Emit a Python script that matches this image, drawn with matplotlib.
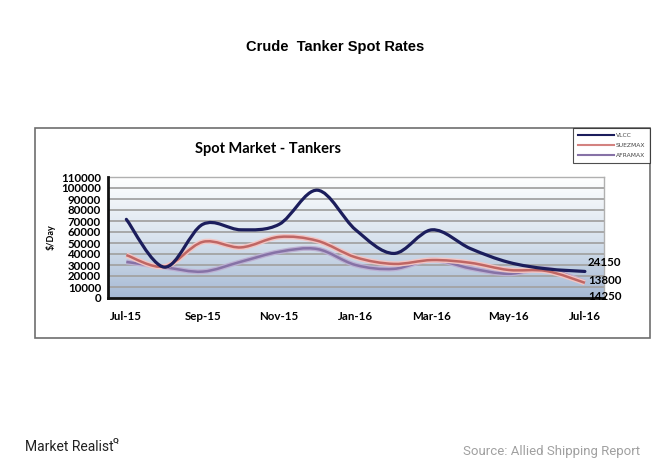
import numpy as np
import matplotlib
matplotlib.use("Agg")
import matplotlib.pyplot as plt
from matplotlib.path import Path
from matplotlib.patches import PathPatch, Rectangle
from matplotlib.colors import LinearSegmentedColormap
from matplotlib.lines import Line2D

# monthly spot rates, $/day (Jul-15 .. Jul-16)
months = ["Jul-15", "Aug-15", "Sep-15", "Oct-15", "Nov-15", "Dec-15", "Jan-16",
          "Feb-16", "Mar-16", "Apr-16", "May-16", "Jun-16", "Jul-16"]
vlcc = [71500, 28000, 67000, 62000, 67000, 98000, 62000, 40500, 62000, 45000, 32500, 26500, 24150]
suezmax = [39000, 28500, 51000, 46000, 55500, 52000, 37000, 31000, 34500, 32000, 25500, 24500, 13800]
aframax = [32800, 28000, 24000, 33000, 42000, 44500, 30000, 26500, 34500, 27000, 22000, 26500, 14250]

tick_months = ["Jul-15", "Sep-15", "Nov-15", "Jan-16", "Mar-16", "May-16", "Jul-16"]
end_labels = ["24150", "13800", "14250"]

W, H = 668, 471


def smooth_path(xs, ys):
    # excel-like smoothed line: catmull-rom segments as cubic beziers
    pts = np.column_stack([xs, ys]).astype(float)
    n = len(pts)
    verts = [pts[0]]
    codes = [Path.MOVETO]
    for i in range(n - 1):
        p0 = pts[i - 1] if i > 0 else pts[i]
        p1 = pts[i]
        p2 = pts[i + 1]
        p3 = pts[i + 2] if i + 2 < n else pts[i + 1]
        c1 = p1 + (p2 - p0) / 6.0
        c2 = p2 - (p3 - p1) / 6.0
        verts += [c1, c2, p2]
        codes += [Path.CURVE4] * 3
    return Path(verts, codes)


def fx(px):
    return px / W


def fy(py):
    return 1 - py / H


fig = plt.figure(figsize=(6.68, 4.71), dpi=100)
fig.patch.set_facecolor("white")

# outer chart box
fig.patches.append(Rectangle((fx(35), fy(338)), fx(650) - fx(35), fy(128) - fy(338),
                             transform=fig.transFigure, fill=False,
                             edgecolor="#6e6e6e", lw=1.2, zorder=0))

ax = fig.add_axes([fx(108), fy(298), fx(604) - fx(108), fy(177) - fy(298)])
x = np.arange(len(months))
ax.set_xlim(-0.48, 12.5)
ax.set_ylim(0, 110000)

# gradient background
grad = np.linspace(0, 1, 256).reshape(-1, 1)
cmap = LinearSegmentedColormap.from_list("bg", ["#a6b9d4", "#d9e3ee", "#ffffff"])
ax.imshow(grad, extent=[-0.48, 12.5, 0, 110000], origin="lower", aspect="auto",
          cmap=cmap, zorder=0)

for yv in range(10000, 110001, 10000):
    ax.axhline(yv, color="#a3a3a3", lw=1.3, zorder=1)

# lines
ax.add_patch(PathPatch(smooth_path(x, aframax), fill=False, edgecolor="#bcb0d2", lw=3.6, zorder=2))
ax.add_patch(PathPatch(smooth_path(x, aframax), fill=False, edgecolor="#8672a6", lw=1.8, zorder=3))
ax.add_patch(PathPatch(smooth_path(x, suezmax), fill=False, edgecolor="#f2c4c2", lw=3.8, zorder=4))
ax.add_patch(PathPatch(smooth_path(x, suezmax), fill=False, edgecolor="#bf6664", lw=1.8, zorder=5))
ax.add_patch(PathPatch(smooth_path(x, vlcc), fill=False, edgecolor="#1b1d5c", lw=2.3, zorder=6,
                       capstyle="round"))

for s in ["top", "right"]:
    ax.spines[s].set_color("#b0b0b0")
    ax.spines[s].set_linewidth(1.0)
for s in ["left", "bottom"]:
    ax.spines[s].set_color("#111111")
    ax.spines[s].set_linewidth(2.0)
    ax.spines[s].set_zorder(7)

tick_font = dict(family="Lato", weight="bold", size=8.3)
ax.set_yticks(range(0, 110001, 10000))
ax.set_yticklabels([str(v) for v in range(0, 110001, 10000)], fontdict=tick_font)
ax.set_xticks([months.index(m) for m in tick_months])
ax.set_xticklabels(tick_months, fontdict=tick_font)
ax.tick_params(axis="y", length=0, pad=5)
ax.tick_params(axis="x", length=0, pad=9)
ax.set_ylabel("$/Day", fontdict=dict(family="Lato", weight="bold", size=6.5), labelpad=4)

# end labels
for lab, py in zip(end_labels, [263, 280, 296]):
    fig.text(fx(588), fy(py), lab, family="Lato", weight="bold", size=8.3,
             ha="left", va="center")

fig.text(fx(195), fy(149), "Spot Market - Tankers", family="Lato", weight="bold",
         size=10.5, ha="left", va="center")
fig.text(fx(335), fy(47), "Crude  Tanker Spot Rates", family="Liberation Sans",
         weight="bold", size=10.5, ha="center", va="center")

handles = [Line2D([], [], color="#1b1d5c", lw=1.5),
           Line2D([], [], color="#d38280", lw=1.5),
           Line2D([], [], color="#8672a6", lw=1.5)]
leg = fig.legend(handles, ["VLCC", "SUEZMAX", "AFRAMAX"], loc="upper right",
                 bbox_to_anchor=(fx(650), fy(128)), prop=dict(family="DejaVu Sans", size=4.3),
                 frameon=True, fancybox=False, handlelength=6, borderpad=0.8,
                 labelspacing=0.8, borderaxespad=0, handletextpad=0.3)
leg.get_frame().set_edgecolor("#222222")
leg.get_frame().set_linewidth(0.8)
for t in leg.get_texts():
    t.set_color("#444444")

fig.text(fx(25), fy(447), "Market Realist", family="Roboto", size=10, color="#222222",
         ha="left", va="center")
fig.text(fx(113), fy(440), "Q", family="Roboto", weight="bold", size=6, color="#222222",
         ha="left", va="center")
fig.text(fx(640), fy(452), "Source: Allied Shipping Report", family="Roboto", size=9.5,
         color="#a0a0a0", ha="right", va="center")

fig.savefig("out.png", dpi=100)
